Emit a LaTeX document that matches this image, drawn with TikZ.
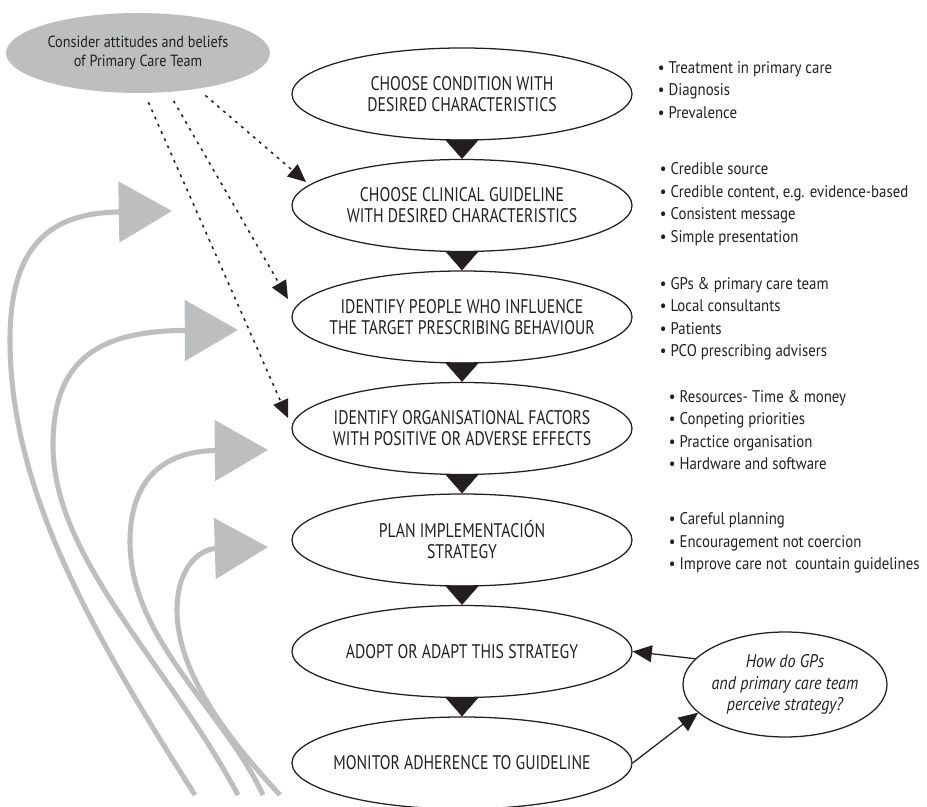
\documentclass[tikz,border=0pt]{standalone}
\usepackage{fontspec}
\setmainfont{PT Sans}
\newfontfamily\stagefont[FakeStretch=0.8]{PT Sans}
\newfontfamily\notefont[FakeStretch=0.88]{PT Sans}
\usetikzlibrary{shapes.geometric,arrows.meta}
\definecolor{flowgray}{RGB}{188,190,192}
\definecolor{ink}{RGB}{35,31,32}

\begin{document}
\begin{tikzpicture}[
    stage/.style={ellipse, draw=ink, line width=0.9pt, minimum width=8.5cm,
        minimum height=2.3cm, inner xsep=-0.7cm, inner ysep=0pt,
        align=center, text=ink, font=\stagefont\fontsize{14}{15}\selectfont},
    notes/.style={anchor=west, align=left, text=ink,
        font=\notefont\fontsize{12}{16}\selectfont},
    down/.style={ink, line width=0.4pt, -{Triangle[length=0.48cm,width=0.84cm]}},
    hint/.style={ink, line width=1.1pt, dash pattern=on 2pt off 3.6pt,
        shorten <=0.25cm, -{Triangle[length=0.45cm,width=0.4cm]}},
    link/.style={ink, line width=0.9pt, -{Triangle[length=0.48cm,width=0.42cm]}},
    back/.style={flowgray, line width=3.6pt, -{Triangle[length=1.33cm,width=1.5cm]}}
]
    \useasboundingbox (0,0) rectangle (23.175,20.175);

    %attitudes
    \node[ellipse, fill=flowgray, minimum width=6.6cm, minimum height=2cm,
          inner xsep=-0.3cm, inner ysep=0pt, align=center, text=ink,
          font=\notefont\fontsize{11.5}{14}\selectfont] (beliefs) at (3.45,18.85) %
         {Consider attitudes and beliefs\\of Primary Care Team};

    %main flow
    \node[stage] (e1) at (11.55,17.825) %
         {CHOOSE CONDITION WITH\\DESIRED CHARACTERISTICS};
    \node[stage] (e2) at (11.55,15.0375) %
         {CHOOSE CLINICAL GUIDELINE\\WITH DESIRED CHARACTERISTICS};
    \node[stage] (e3) at (11.55,12.25) %
         {IDENTIFY PEOPLE WHO INFLUENCE\\THE TARGET PRESCRIBING BEHAVIOUR};
    \node[stage] (e4) at (11.55,9.4625) %
         {IDENTIFY ORGANISATIONAL FACTORS\\WITH POSITIVE OR ADVERSE EFFECTS};
    \node[stage] (e5) at (11.55,6.675) %
         {PLAN IMPLEMENTACIÓN\\STRATEGY};
    \node[stage] (e6) at (11.55,3.8875) {ADOPT OR ADAPT THIS STRATEGY};
    \node[stage] (e7) at (11.55,1.1) {MONITOR ADHERENCE TO GUIDELINE};

    \draw[down] (e1.south) -- (e2.north);
    \draw[down] (e2.south) -- (e3.north);
    \draw[down] (e3.south) -- (e4.north);
    \draw[down] (e4.south) -- (e5.north);
    \draw[down] (e5.south) -- (e6.north);
    \draw[down] (e6.south) -- (e7.north);

    %notes
    \node[notes] (n1) at (16.325,17.925) %
         {• Treatment in primary care\\• Diagnosis\\• Prevalence};
    \node[notes] (n2) at (16.375,15.075) %
         {• Credible source\\• Credible content, e.g. evidence-based\\%
          • Consistent message\\• Simple presentation};
    \node[notes] (n3) at (16.375,12.2) %
         {• GPs \& primary care team\\• Local consultants\\• Patients\\%
          • PCO prescribing advisers};
    \node[notes] (n4) at (16.6,9.425) %
         {• Resources- Time \& money\\• Conpeting priorities\\%
          • Practice organisation\\• Hardware and software};
    \node[notes] (n5) at (16.6,6.6) %
         {• Careful planning\\• Encouragement not coercion\\%
          • Improve care not\ \ countain guidelines};

    %perception
    \node[ellipse, draw=ink, line width=0.9pt, minimum width=5.1cm,
          minimum height=2.625cm, inner xsep=-0.3cm, inner ysep=0pt,
          align=center, text=ink,
          font=\notefont\itshape\fontsize{13}{15.5}\selectfont] (perceive) at (19.625,3.0625) %
         {How do GPs\\and primary care team\\perceive strategy?};
    \draw[link] (perceive.164) -- (e6.east);
    \draw[link] (e7.east) -- (perceive.198);

    %dotted influence
    \coordinate (t2) at (7.65,15.625);
    \coordinate (t3) at (7.2,12.7);
    \coordinate (t4) at (7.2,9.725);
    \draw[hint] (beliefs.-31) -- (t2);
    \draw[hint] (beliefs.-52) -- (t3);
    \draw[hint] (beliefs.-81) -- (t4);

    %feedback
    \draw[back] (4.875,0.3) .. controls (2.2,4.5) and (0.25,8.0) .. (0.25,11.675)
        .. controls (0.25,14.3) and (1.5,14.85) .. (4.3,14.9);
    \draw[back] (5.95,0.3) .. controls (4.2,3.6) and (1.325,6.2) .. (1.325,9.05)
        .. controls (1.325,11.3) and (2.6,11.9) .. (5.95,11.925);
    \draw[back] (6.575,0.3) .. controls (5.6,2.4) and (3.25,4.2) .. (3.25,6.625)
        .. controls (3.25,8.3) and (4.2,8.9) .. (6.7,8.925);
    \draw[back] (7.0,0.3) .. controls (5.8,1.6) and (4.425,3.3) .. (4.425,4.925)
        .. controls (4.425,6.0) and (5.0,6.45) .. (6.7,6.5);
\end{tikzpicture}
\end{document}
